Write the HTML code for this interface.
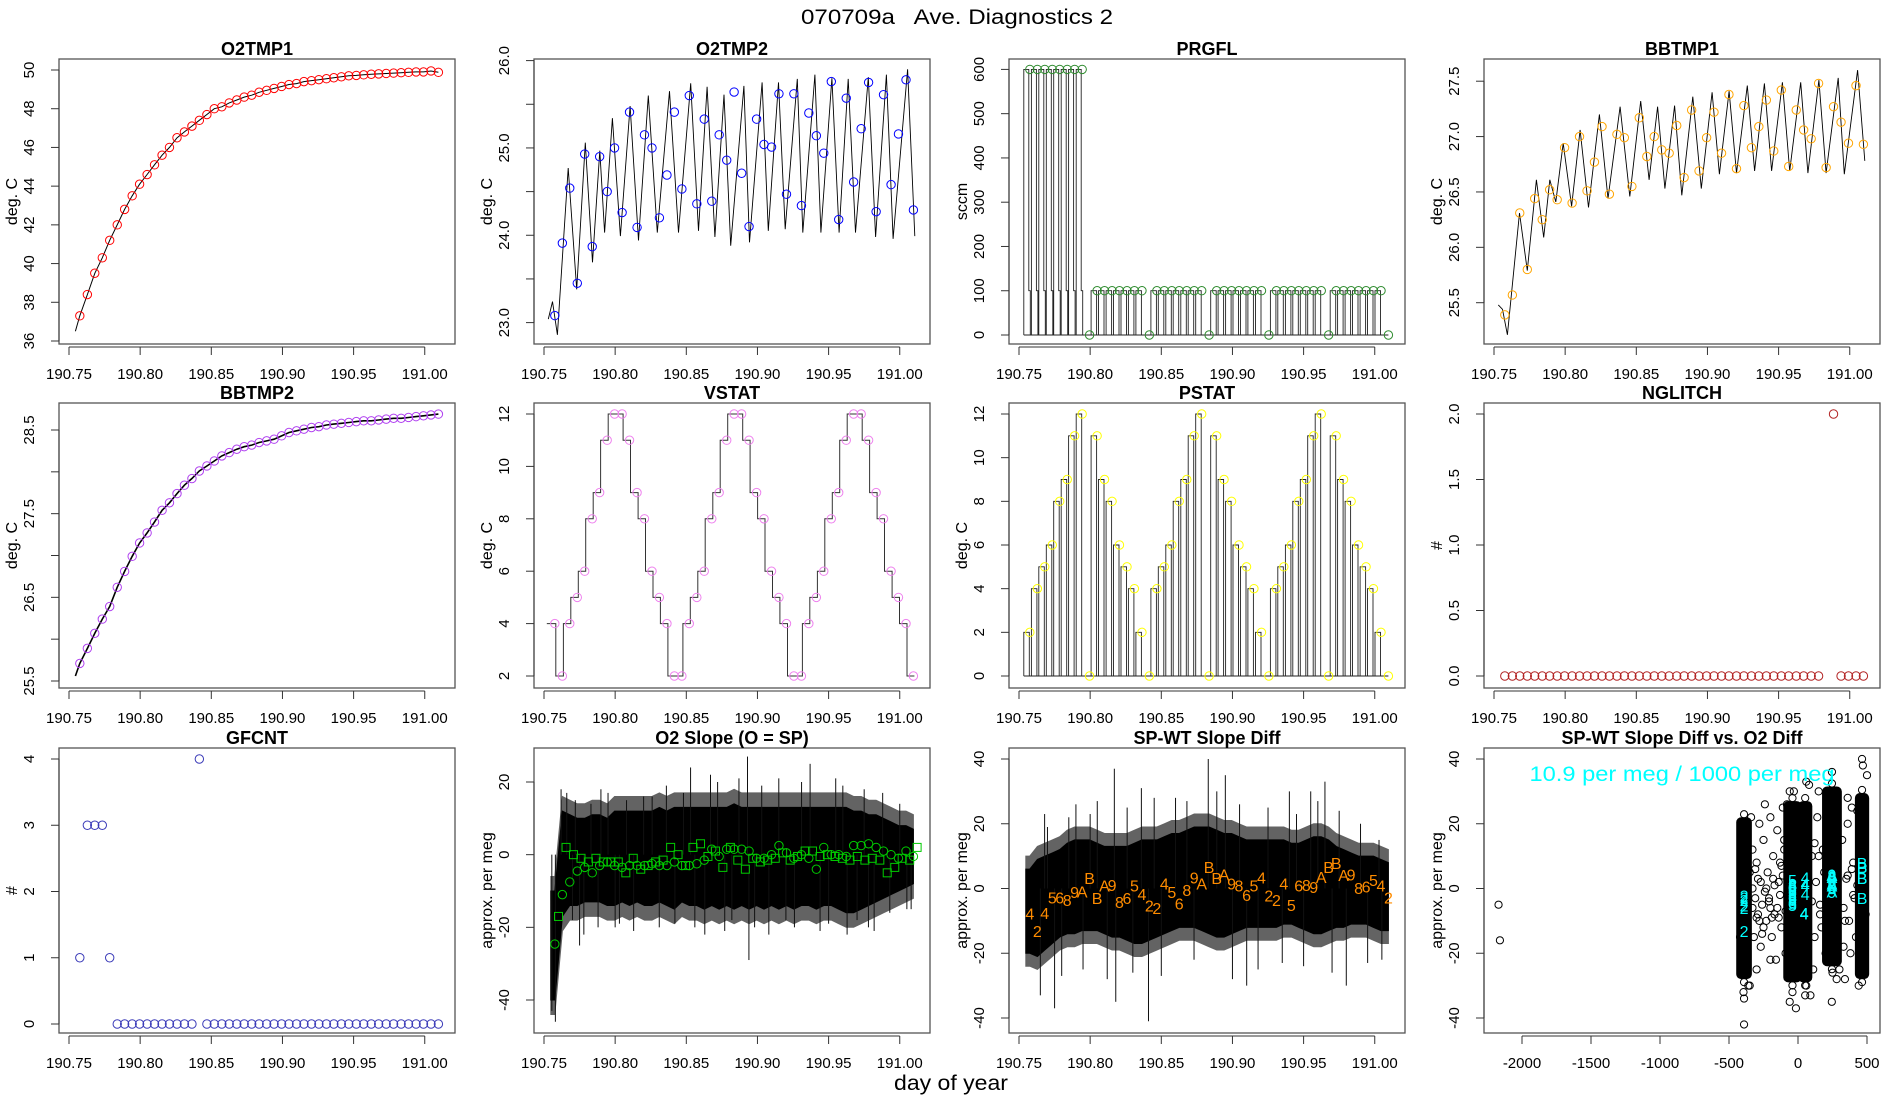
<!DOCTYPE html>
<html><head><meta charset="utf-8"><title>070709a Ave. Diagnostics 2</title>
<style>
html,body{margin:0;padding:0;background:#fff;}
svg{display:block;font-family:"Liberation Sans",Arial,sans-serif;}
</style></head>
<body>
<svg id="chart" width="1900" height="1100" viewBox="0 0 1900 1100" xmlns="http://www.w3.org/2000/svg">
<rect x="0" y="0" width="1900" height="1100" fill="#fff"/>
<text x="957" y="24" font-size="21" text-anchor="middle" style="white-space:pre" textLength="312" lengthAdjust="spacingAndGlyphs">070709a   Ave. Diagnostics 2</text>
<text x="951" y="1090" font-size="21" text-anchor="middle" textLength="114" lengthAdjust="spacingAndGlyphs">day of year</text>
</svg>
<script>
// ---------- data ----------
const times = [190.7576,190.7629,190.7681,190.7734,190.7786,190.7839,190.7891,190.7944,190.7996,190.8049,190.8101,190.8154,190.8206,190.8259,190.8311,190.8364,190.8416,190.8469,190.8521,190.8574,190.8626,190.8679,190.8731,190.8784,190.8836,190.8889,190.8941,190.8994,190.9046,190.9099,190.9151,190.9204,190.9256,190.9309,190.9361,190.9414,190.9466,190.9519,190.9571,190.9624,190.9676,190.9729,190.9781,190.9834,190.9886,190.9939,190.9991,191.0044,191.0096];
const timeTicks = [190.75,190.80,190.85,190.90,190.95,191.00];
const timeTickLabels = ['190.75','190.80','190.85','190.90','190.95','191.00'];

const o2tmp1 = [37.3,38.4,39.5,40.3,41.2,42.0,42.8,43.5,44.1,44.6,45.1,45.6,46.0,46.5,46.8,47.1,47.4,47.7,48.0,48.1,48.3,48.45,48.6,48.7,48.85,48.95,49.05,49.15,49.25,49.3,49.4,49.45,49.5,49.55,49.6,49.65,49.7,49.72,49.75,49.78,49.8,49.82,49.84,49.86,49.88,49.9,49.9,49.95,49.88];
const o2tmp1StartT = 190.7545, o2tmp1StartV = 36.5;

const o2tmp2 = [23.08,23.91,24.54,23.45,24.93,23.87,24.90,24.50,25.00,24.26,25.41,24.09,25.15,25.00,24.20,24.69,25.41,24.53,25.60,24.36,25.33,24.39,25.15,24.86,25.64,24.71,24.10,25.33,25.04,25.01,25.62,24.47,25.62,24.34,25.40,25.14,24.94,25.76,24.18,25.57,24.61,25.22,25.75,24.27,25.61,24.58,25.16,25.78,24.29];
const o2tmp2LineT = [190.7530,190.7560,190.7594,190.7670,190.7730,190.7790,190.7841,190.7892,190.7926,190.7981,190.8037,190.8105,190.8164,190.8233,190.8296,190.8382,190.8445,190.8531,190.8586,190.8646,190.8701,190.8765,190.8812,190.8905,190.8944,190.9033,190.9076,190.9148,190.9195,190.9280,190.9319,190.9404,190.9446,190.9523,190.9574,190.9638,190.9689,190.9779,190.9830,190.9906,190.9953,191.0055,191.0106];
const o2tmp2LineV = [23.04,23.24,22.86,24.77,23.38,25.06,23.69,24.97,24.03,25.34,23.99,25.48,23.94,25.60,24.03,25.65,24.03,25.74,24.05,25.70,23.98,25.61,23.88,25.71,23.92,25.75,24.05,25.75,24.07,25.79,24.03,25.84,24.03,25.80,24.03,25.79,24.03,25.81,23.98,25.84,23.96,25.90,23.99];

const prgfl = [600,600,600,600,600,600,600,600,0,100,100,100,100,100,100,100,0,100,100,100,100,100,100,100,0,100,100,100,100,100,100,100,0,100,100,100,100,100,100,100,0,100,100,100,100,100,100,100,0];

const bbtmp1 = [25.39,25.57,26.31,25.80,26.44,26.25,26.52,26.43,26.90,26.40,27.00,26.51,26.77,27.09,26.48,27.02,26.99,26.55,27.17,26.82,27.00,26.88,26.85,27.10,26.63,27.24,26.69,26.99,27.22,26.85,27.38,26.71,27.28,26.90,27.09,27.33,26.87,27.42,26.73,27.24,27.06,26.98,27.48,26.72,27.27,27.13,26.94,27.46,26.93];
const bbtmp1LineT = [190.7530,190.7560,190.7594,190.7679,190.7734,190.7798,190.7849,190.7892,190.7934,190.7986,190.8045,190.8105,190.8164,190.8241,190.8301,190.8386,190.8454,190.8531,190.8590,190.8650,190.8701,190.8769,190.8820,190.8897,190.8957,190.9033,190.9084,190.9152,190.9204,190.9280,190.9331,190.9400,190.9451,190.9527,190.9578,190.9655,190.9706,190.9783,190.9834,190.9919,190.9962,191.0055,191.0106];
const bbtmp1LineV = [25.48,25.44,25.21,26.31,25.79,26.61,26.09,26.61,26.41,26.94,26.37,27.06,26.36,27.20,26.44,27.27,26.46,27.32,26.61,27.27,26.53,27.28,26.47,27.36,26.53,27.40,26.66,27.41,26.67,27.46,26.69,27.48,26.69,27.49,26.69,27.49,26.67,27.51,26.67,27.53,26.66,27.60,26.78];

const bbtmp2 = [25.71,25.89,26.07,26.24,26.39,26.62,26.81,26.99,27.15,27.27,27.40,27.54,27.63,27.74,27.84,27.92,28.01,28.07,28.13,28.19,28.23,28.27,28.30,28.32,28.35,28.37,28.39,28.43,28.47,28.49,28.51,28.53,28.54,28.56,28.57,28.58,28.59,28.60,28.61,28.61,28.62,28.63,28.64,28.64,28.65,28.66,28.67,28.68,28.69];
const bbtmp2StartT = 190.7545, bbtmp2StartV = 25.56;

const vstat = [4,2,4,5,6,8,9,11,12,12,11,9,8,6,5,4,2,2,4,5,6,8,9,11,12,12,11,9,8,6,5,4,2,2,4,5,6,8,9,11,12,12,11,9,8,6,5,4,2];
const pstat = [2,4,5,6,8,9,11,12,0,11,9,8,6,5,4,2,0,4,5,6,8,9,11,12,0,11,9,8,6,5,4,2,0,4,5,6,8,9,11,12,0,11,9,8,6,5,4,2,0];
const nglitch = [0,0,0,0,0,0,0,0,0,0,0,0,0,0,0,0,0,0,0,0,0,0,0,0,0,0,0,0,0,0,0,0,0,0,0,0,0,0,0,0,0,0,0,0,2,0,0,0,0];
const nglitchMissing = [43];
const gfcnt = [1,3,3,3,1,0,0,0,0,0,0,0,0,0,0,0,4,0,0,0,0,0,0,0,0,0,0,0,0,0,0,0,0,0,0,0,0,0,0,0,0,0,0,0,0,0,0,0,0];

const slopeUpper = [-10,12,11,10,10,11,11,10,12,12,12,12,12,12,13,12,13,13,13,13,13,13,13,13,14,13,13,13,13,13,13,13,13,13,13,13,13,13,13,13,12,12,11,11,10,9,8,8,7];
const slopeLower = [-40,-17,-14,-14,-13,-13,-13,-14,-14,-13,-14,-13,-14,-14,-13,-14,-15,-13,-14,-14,-15,-14,-15,-14,-15,-14,-15,-14,-15,-14,-15,-14,-15,-14,-14,-15,-14,-14,-15,-16,-16,-15,-14,-13,-12,-11,-10,-9,-8];
const slopeSpikeT = [190.7555,190.7580,190.7660,190.7700,190.7750,190.7900,190.8000,190.8200,190.8530,190.8630,190.8670,190.8820,190.8930,190.8940,190.9200,190.9370,190.9500,190.9600,190.9700,190.9820,191.0050,
  190.762,190.772,190.778,190.783,190.788,190.795,190.803,190.808,190.813,190.826,190.831,190.836,190.842,190.848,190.856,190.872,190.877,190.887,190.898,190.903,190.908,190.915,190.926,190.931,190.944,190.955,190.963,190.975,190.978,190.988,190.993,191.000,191.008];
const slopeSpikeV = [-43,-46,17,-18,-25,18,-20,16,24,-22,22,-18,27,-29,-18,25,-19,19,-18,-21,-15,
  18,15,-22,14,-20,17,-19,15,-21,16,-20,19,-19,17,-20,20,-21,21,-20,19,-22,21,-20,20,-21,21,-22,18,-20,17,-16,14,-15];
const slopeCircles = [-24.6,-11,-7.5,-4.5,-3.5,-5,-3,-2,-3,-3.5,-3,-3,-3,-2.5,-3,-3,-2,-3,-3,-2.5,-1.5,1.5,-0.5,1.5,1.5,1.5,1,-1,-1,0,2.5,0.5,-1,0,-1,-4,2,0,0,-0.5,2.5,2.5,3,2,1,0,-1,1,-0.5];
const slopeSquares = [-17,2,0,-1,-2,-1,-2,-2,-2,-5,-1,-4,-3,-2,-1.5,2,0,-3,2,3,-0.5,1,-3.5,2,-1.5,-4,-1,-2,-1.5,-1,0.5,-1.5,-0.5,1,1,-0.5,0,-0.5,-1,-1.5,-0.5,-1.5,-1,-1.5,-5,-3.5,-1,-1.5,2];

const diffUpper = [6,9,10,11,12,14,15,15,15,14,13,13,13,13,14,15,15,15,16,17,17,18,19,19,19,18,17,17,16,15,15,15,15,15,15,14,14,15,16,16,15,13,12,11,10,10,10,9,8];
const diffLower = [-20,-21,-19,-17,-15,-14,-14,-13,-13,-13,-14,-15,-15,-16,-17,-17,-16,-15,-14,-13,-12,-12,-12,-13,-14,-15,-15,-14,-13,-12,-12,-12,-12,-12,-11,-11,-12,-13,-14,-14,-13,-12,-12,-11,-11,-11,-12,-13,-13];
const diffSpikeT = [190.7650,190.7680,190.7750,190.7900,190.8050,190.8170,190.8180,190.8360,190.8410,190.8600,190.8830,190.8950,190.9100,190.9400,190.9550,190.9650,190.9800,191.0050,
  190.770,190.780,190.785,190.795,190.800,190.812,190.826,190.830,190.845,190.850,190.868,190.873,190.889,190.900,190.905,190.918,190.925,190.935,190.945,190.950,190.960,190.970,190.975,190.990,190.995,191.003];
const diffSpikeV = [-33,23,-37,26,27,37,-35,31,-41,28,40,35,-30,30,30,33,-30,-22,
  19,-27,22,-25,23,-28,25,-26,28,-27,27,-22,30,-28,26,-25,25,-23,23,-24,27,-26,24,20,-23,15];
const diffLabels = ['4','2','4','5','6','8','9','A','B','B','A','9','8','6','5','4','2','2','4','5','6','8','9','A','B','B','A','9','8','6','5','4','2','2','4','5','6','8','9','A','B','B','A','9','8','6','5','4','2'];
const diffValues = [-7.7,-13.2,-7.5,-2.8,-2.8,-3.5,-1.1,-0.9,3.2,-3.0,0.9,1.1,-4.1,-3.0,0.9,-1.7,-5.3,-6.1,1.5,-1.1,-4.6,-0.4,3.4,1.5,6.7,3.2,4.3,1.5,0.9,-2.0,0.9,3.4,-2.2,-3.5,1.5,-5.1,0.9,1.1,0.4,3.5,6.7,7.9,4.1,4.3,0.1,0.6,2.7,0.9,-2.8];
const o2Diff = [45,-391,45,-40,-40,-40,246,246,464,464,246,246,-40,-40,-40,52,-391,-391,52,-40,-40,-40,246,246,464,464,246,246,-40,-40,-40,52,-391,-391,52,-40,-40,-40,246,246,464,464,246,246,-40,-40,-40,52,-391];

const clusterX = [-391,-40,52,246,464];
const clusterHalfW = [35,45,30,50,30];
const clusterTop = [22,27,27,31.5,29.5];
const clusterBot = [-28,-29,-29,-24,-28];
const scatterX = [-2170,-2160,-391,-15,245,-330,-300,-280,-260,-250,-230,-220,-200,-190,-180,-170,-150,-140,-120,-110,-100,-90,-320,-300,-290,-270,-240,-210,-160,-130,0,10,100,120,140,160,180,200,150,110,320,340,360,380,400,420,340,360,390,300,-350,-340,-60,60,-30,80,-200,-350,-391,-395,-40,52,246,464,470,-60,60,250,
  -330,-310,-290,-270,-250,-230,-210,-190,-170,-150,-130,-110,-90,-330,-310,-280,-260,-240,-200,-180,-140,-120,100,130,160,190,210,330,350,370,390,410,430,150,170,120,330,360,400,-370,-410,-420,-360,-20,-80,90,20,280,210,430,440,500,490,-100,0,-300];
const scatterY = [-5,-16,-42,-37,-35,12,8,20,-5,15,-10,5,22,-15,10,-8,18,2,-12,25,12,-20,-15,-25,3,-18,26,-3,-22,8,15,-10,10,-15,22,-5,12,-20,30,-25,15,-10,20,-20,8,-15,-28,28,25,-25,-30,22,-35,-30,30,32,-22,5,-34,-32,-32,-33,36,40,38,30,33,-26,
  -6,-3,-8,2,-12,0,-4,-9,1,-6,-2,4,-7,0,6,-10,-14,-1,-6,3,-9,7,-4,2,-8,5,-2,-6,3,-10,6,-3,1,10,-12,14,-18,4,-2,-20,10,-15,-30,-25,26,-33,14,-28,20,24,-30,35,-8,15,2,-9];
const scatTicks = [-2000,-1500,-1000,-500,0,500];

// ---------- helpers ----------
const NS = 'http://www.w3.org/2000/svg';
const svg = document.getElementById('chart');
function mk(tag, attrs, parent){
  const e = document.createElementNS(NS, tag);
  for (const k in attrs) e.setAttribute(k, attrs[k]);
  parent.appendChild(e);
  return e;
}
const colL = [59,534,1009,1484], rowT = [59,403,748], PW = 396, PH = 285;

function makePanel(cfg){
  const left = colL[cfg.col], top = rowT[cfg.row], bottom = top + PH;
  const g = mk('g', {}, svg);
  
  
  const X = cfg.xmap ? cfg.xmap(left) : (t => left + 10 + (t - 190.75) * 1423);
  const Y = v => cfg.yp0 + (v - cfg.yv0) * (cfg.yp1 - cfg.yp0) / (cfg.yv1 - cfg.yv0);
  const box = mk('rect', {x:left, y:top, width:PW, height:PH, fill:'none', stroke:'#555', 'stroke-width':1.3}, g);
  
  
  const title = mk('text', {x:left + PW/2, y:top - 4, 'font-size':18, 'font-weight':'bold', 'text-anchor':'middle'}, g);
  title.textContent = cfg.title;
  
  
  const xt = cfg.xticks || timeTicks, xl = cfg.xlabels || timeTickLabels;
  const xa = mk('g', {}, g);
  
  
  const ax = mk('line', {x1:X(xt[0]), x2:X(xt[xt.length-1]), y1:bottom+3, y2:bottom+3, stroke:'#333', 'stroke-width':1}, xa);
  
  
  xt.forEach((v,i) => {
    const tk = mk('line', {x1:X(v), x2:X(v), y1:bottom+3, y2:bottom+11, stroke:'#333', 'stroke-width':1}, xa);
    
    
    const tl = mk('text', {x:X(v), y:bottom+35, 'font-size':15, 'text-anchor':'middle'}, xa);
    tl.textContent = xl[i];
    
    
  });
  const ya = mk('g', {}, g);
  
  
  const ay = mk('line', {x1:left, x2:left, y1:Y(cfg.yticks[0]), y2:Y(cfg.yticks[cfg.yticks.length-1]), stroke:'#333', 'stroke-width':1}, ya);
  
  
  cfg.yticks.forEach((v,i) => {
    const tk = mk('line', {x1:left-8, x2:left, y1:Y(v), y2:Y(v), stroke:'#333', 'stroke-width':1}, ya);
    
    
    const lab = cfg.ylabels[i];
    if (lab !== '') {
      const tl = mk('text', {x:left-25, y:Y(v), 'font-size':15, 'text-anchor':'middle', transform:'rotate(-90 ' + (left-25) + ' ' + Y(v) + ')'}, ya);
      tl.textContent = lab;
      
      
    }
  });
  const cy = top + PH/2;
  const yl = mk('text', {x:left-42, y:cy, 'font-size':16, 'text-anchor':'middle', transform:'rotate(-90 ' + (left-42) + ' ' + cy + ')'}, g);
  yl.textContent = cfg.ylab;
  
  
  const dg = mk('g', {}, g);
  
  
  return {g:dg, X, Y, left, top, bottom};
}
function polyline(p, xs, ys, name, color, w){
  const d = xs.map((x,i) => (i ? 'L' : 'M') + p.X(x).toFixed(1) + ' ' + p.Y(ys[i]).toFixed(1)).join(' ');
  const e = mk('path', {d:d, fill:'none', stroke:color || '#000', 'stroke-width':w || 1}, p.g);
  
  
  return e;
}
function circles(p, xs, ys, color, name, skip){
  xs.forEach((x,i) => {
    if (skip && skip.indexOf(i) >= 0) return;
    const c = mk('circle', {cx:p.X(x), cy:p.Y(ys[i]), r:4.2, fill:'none', stroke:color, 'stroke-width':1}, p.g);
    
    
  });
}
function rng(a,b,s){ const r=[]; for(let v=a; v<=b+1e-9; v+=s) r.push(Math.round(v*100)/100); return r; }
function band(p, up, lo, spT, spV, name){
  [[4,'#222'],[0,'#000']].forEach(([pad,col]) => {
    let d = 'M' + (p.X(times[0]) - 4).toFixed(1) + ' ' + p.Y(up[0]+pad).toFixed(1);
    times.forEach((t,i) => { d += ' L' + p.X(t).toFixed(1) + ' ' + p.Y(up[i]+pad).toFixed(1); });
    for (let i = times.length - 1; i >= 0; i--) d += ' L' + p.X(times[i]).toFixed(1) + ' ' + p.Y(lo[i]-pad).toFixed(1);
    d += ' L' + (p.X(times[0]) - 4).toFixed(1) + ' ' + p.Y(lo[0]-pad).toFixed(1) + ' Z';
    const e = mk('path', {d:d, fill:col, stroke:col, 'stroke-width':1, opacity: pad ? 0.7 : 1}, p.g);
    
    
  });
  spT.forEach((t,i) => {
    const s = mk('line', {x1:p.X(t), x2:p.X(t), y1:p.Y(0), y2:p.Y(spV[i]), stroke:'#111', 'stroke-width':1}, p.g);
    
    
  });
}

// 1 O2TMP1
let p = makePanel({id:'o2tmp1', title:'O2TMP1', ylab:'deg. C', col:0, row:0, yv0:50, yp0:70, yv1:36, yp1:341, yticks:rng(36,50,2), ylabels:rng(36,50,2).map(String)});
polyline(p, [o2tmp1StartT].concat(times), [o2tmp1StartV].concat(o2tmp1), 'o2tmp1-line');
circles(p, times, o2tmp1, '#ff0000', 'o2tmp1-point');

// 2 O2TMP2
p = makePanel({id:'o2tmp2', title:'O2TMP2', ylab:'deg. C', col:1, row:0, yv0:26, yp0:60.6, yv1:23, yp1:322.6, yticks:rng(23,26,0.5), ylabels:['23.0','','24.0','','25.0','','26.0']});
polyline(p, o2tmp2LineT, o2tmp2LineV, 'o2tmp2-line', '#000', 0.9);
circles(p, times, o2tmp2, '#0000ff', 'o2tmp2-point');

// 3 PRGFL
p = makePanel({id:'prgfl', title:'PRGFL', ylab:'sccm', col:2, row:0, yv0:600, yp0:69.4, yv1:0, yp1:335, yticks:rng(0,600,100), ylabels:rng(0,600,100).map(String)});
(function(){
  let d = 'M' + (p.X(times[0]) - 6).toFixed(1) + ' ' + p.Y(0) + ' H' + p.X(times[times.length-1]).toFixed(1);
  times.forEach((t,i) => {
    const v = prgfl[i]; if (v <= 0) return;
    const x = p.X(t);
    if (v > 100) d += ' M' + (x-6).toFixed(1) + ' ' + p.Y(0) + ' V' + p.Y(v).toFixed(1) + ' H' + (x-1).toFixed(1) + ' V' + p.Y(100).toFixed(1) + ' H' + (x+0.5).toFixed(1) + ' V' + p.Y(0);
    else d += ' M' + (x-6).toFixed(1) + ' ' + p.Y(0) + ' V' + p.Y(v).toFixed(1) + ' H' + (x-0.5).toFixed(1) + ' V' + p.Y(0);
  });
  const e = mk('path', {d:d, fill:'none', stroke:'#222', 'stroke-width':0.9}, p.g);
  
  
})();
circles(p, times, prgfl, '#2e8b2e', 'prgfl-point');

// 4 BBTMP1
p = makePanel({id:'bbtmp1', title:'BBTMP1', ylab:'deg. C', col:3, row:0, yv0:27.5, yp0:81.2, yv1:25.5, yp1:302.7, yticks:rng(25.5,27.5,0.5), ylabels:['25.5','26.0','26.5','27.0','27.5']});
polyline(p, bbtmp1LineT, bbtmp1LineV, 'bbtmp1-line', '#000', 0.9);
circles(p, times, bbtmp1, '#ffa500', 'bbtmp1-point');

// 5 BBTMP2
p = makePanel({id:'bbtmp2', title:'BBTMP2', ylab:'deg. C', col:0, row:1, yv0:28.5, yp0:430, yv1:25.5, yp1:681, yticks:rng(25.5,28.5,0.5), ylabels:['25.5','','26.5','','27.5','','28.5']});
polyline(p, [bbtmp2StartT].concat(times), [bbtmp2StartV].concat(bbtmp2), 'bbtmp2-line', '#000', 1.6);
circles(p, times, bbtmp2, '#b040f0', 'bbtmp2-point');

// 6 VSTAT
p = makePanel({id:'vstat', title:'VSTAT', ylab:'deg. C', col:1, row:1, yv0:12, yp0:414, yv1:2, yp1:676, yticks:rng(2,12,2), ylabels:rng(2,12,2).map(String)});
(function(){
  let d = 'M' + (p.X(times[0]) - 8).toFixed(1) + ' ' + p.Y(vstat[0]).toFixed(1);
  times.forEach((t,i) => {
    d += ' H' + (p.X(t) + 1).toFixed(1);
    if (i < times.length - 1) d += ' V' + p.Y(vstat[i+1]).toFixed(1);
  });
  const e = mk('path', {d:d, fill:'none', stroke:'#333', 'stroke-width':1}, p.g);
  
  
})();
circles(p, times, vstat, '#ee82ee', 'vstat-point');

// 7 PSTAT
p = makePanel({id:'pstat', title:'PSTAT', ylab:'deg. C', col:2, row:1, yv0:12, yp0:414, yv1:0, yp1:676, yticks:rng(0,12,2), ylabels:rng(0,12,2).map(String)});
(function(){
  let d = 'M' + (p.X(times[0]) - 6).toFixed(1) + ' ' + p.Y(0) + ' H' + p.X(times[times.length-1]).toFixed(1);
  times.forEach((t,i) => {
    const v = pstat[i]; if (v <= 0) return;
    const x = p.X(t);
    d += ' M' + (x-6).toFixed(1) + ' ' + p.Y(0) + ' V' + p.Y(v).toFixed(1) + ' H' + (x-0.5).toFixed(1) + ' V' + p.Y(0);
  });
  const e = mk('path', {d:d, fill:'none', stroke:'#222', 'stroke-width':0.9}, p.g);
  
  
})();
circles(p, times, pstat, '#ffff00', 'pstat-point');

// 8 NGLITCH
p = makePanel({id:'nglitch', title:'NGLITCH', ylab:'#', col:3, row:1, yv0:2, yp0:414, yv1:0, yp1:676, yticks:rng(0,2,0.5), ylabels:['0.0','0.5','1.0','1.5','2.0']});
circles(p, times, nglitch, '#b22222', 'nglitch-point', nglitchMissing);

// 9 GFCNT
p = makePanel({id:'gfcnt', title:'GFCNT', ylab:'#', col:0, row:2, yv0:4, yp0:759, yv1:0, yp1:1024, yticks:rng(0,4,1), ylabels:['0','1','2','3','4']});
circles(p, times, gfcnt, '#3a3ab8', 'gfcnt-point');

// 10 O2 Slope
p = makePanel({id:'o2slope', title:'O2 Slope (O = SP)', ylab:'approx. per meg', col:1, row:2, yv0:20, yp0:782, yv1:-40, yp1:1000, yticks:[-40,-20,0,20], ylabels:['-40','-20','0','20']});
band(p, slopeUpper, slopeLower, slopeSpikeT, slopeSpikeV, 'o2slope');
circles(p, times, slopeCircles, '#00cc00', 'o2slope-sp-point');
times.forEach((t,i) => {
  const r = mk('rect', {x:p.X(t)+3.7-4, y:p.Y(slopeSquares[i])-4, width:8, height:8, fill:'none', stroke:'#00cc00', 'stroke-width':1}, p.g);
  
  
});

// 11 SP-WT Slope Diff
p = makePanel({id:'spwt', title:'SP-WT Slope Diff', ylab:'approx. per meg', col:2, row:2, yv0:40, yp0:759, yv1:-40, yp1:1018, yticks:[-40,-20,0,20,40], ylabels:['-40','-20','0','20','40']});
band(p, diffUpper, diffLower, diffSpikeT, diffSpikeV, 'spwt');
times.forEach((t,i) => {
  const tx = mk('text', {x:p.X(t), y:p.Y(diffValues[i]) + 6, 'font-size':16, fill:'#ff8c00', 'text-anchor':'middle'}, p.g);
  tx.textContent = diffLabels[i];
  
  
});

// 12 scatter
p = makePanel({id:'spwt-vs-o2', title:'SP-WT Slope Diff vs. O2 Diff', ylab:'approx. per meg', col:3, row:2, yv0:40, yp0:759, yv1:-40, yp1:1018, yticks:[-40,-20,0,20,40], ylabels:['-40','-20','0','20','40'],
  xmap: left => (v => left + 38 + (v + 2000) * 0.138), xticks:scatTicks, xlabels:scatTicks.map(String)});
scatterX.forEach((x,i) => {
  const c = mk('circle', {cx:p.X(x), cy:p.Y(scatterY[i]), r:3.6, fill:'none', stroke:'#000', 'stroke-width':1}, p.g);
  
  
});
clusterX.forEach((cx,i) => {
  const x0 = p.X(cx - clusterHalfW[i]), x1 = p.X(cx + clusterHalfW[i]);
  const yt = p.Y(clusterTop[i]), yb = p.Y(clusterBot[i]);
  const r = mk('rect', {x:x0-3, y:yt, width:(x1-x0)+6, height:yb-yt, rx:5, fill:'#000'}, p.g);
  
  
  [clusterTop[i], clusterBot[i]].forEach(v => {
    const c = mk('circle', {cx:p.X(cx), cy:p.Y(v) + (v > 0 ? -3 : 3), r:3.6, fill:'none', stroke:'#000', 'stroke-width':1}, p.g);
    
    
  });
});
o2Diff.forEach((x,i) => {
  const tx = mk('text', {x:p.X(x), y:p.Y(diffValues[i]) + 6, 'font-size':16, fill:'#00ffff', 'text-anchor':'middle'}, p.g);
  tx.textContent = diffLabels[i];
  
  
});
const ann = mk('text', {x:1682, y:781, 'font-size':21, fill:'#00ffff', 'text-anchor':'middle', textLength:305, lengthAdjust:'spacingAndGlyphs'}, p.g);
ann.textContent = '10.9 per meg / 1000 per meg';


</script>
</body></html>
